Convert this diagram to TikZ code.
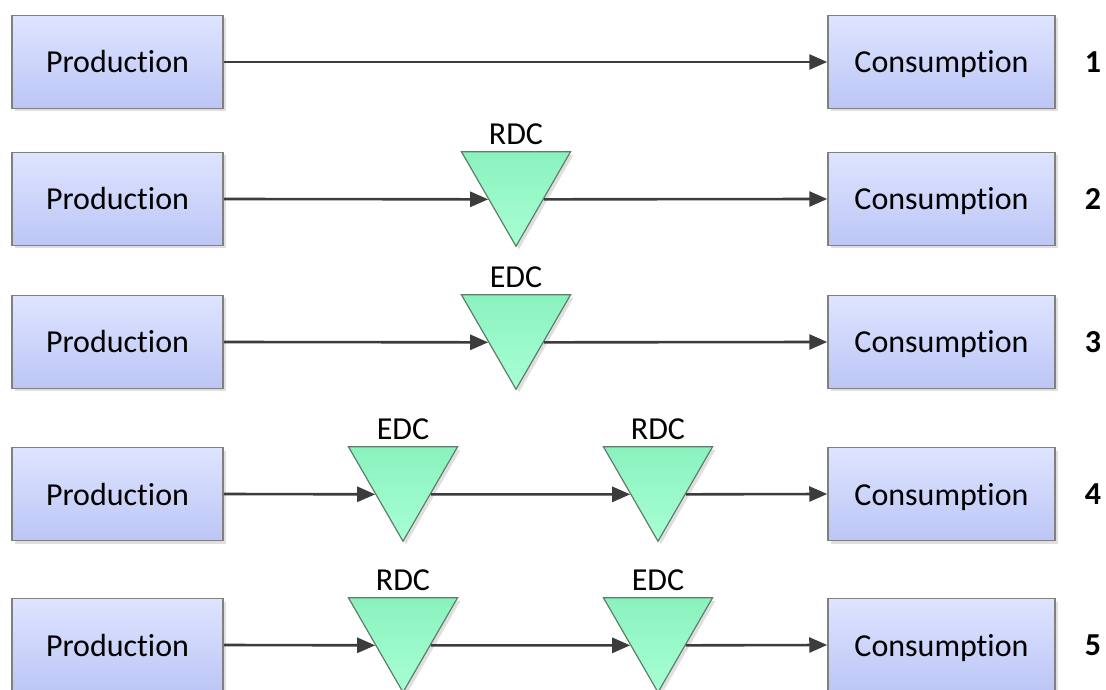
\documentclass[tikz,border=0pt]{standalone}
\usepackage{fontspec}
\setmainfont[Ligatures=NoCommon]{Carlito}
\usetikzlibrary{shapes.geometric, arrows.meta, positioning, shadows}
\definecolor{boxtop}{RGB}{222,228,255}
\definecolor{boxbot}{RGB}{188,198,246}
\definecolor{boxedge}{RGB}{128,128,128}
\definecolor{dctop}{RGB}{138,242,190}
\definecolor{dcbot}{RGB}{168,255,212}
\definecolor{dcedge}{RGB}{95,125,105}
\definecolor{flowc}{RGB}{60,60,60}

\begin{document}
\begin{tikzpicture}[x=1pt, y=1pt,
    font=\fontsize{32}{38}\selectfont,
    box/.style={draw=boxedge, line width=1.5pt, top color=boxtop, bottom color=boxbot,
        minimum height=93pt, inner sep=0pt, text height=26pt, text depth=4pt,
        drop shadow={shadow xshift=3pt, shadow yshift=-3pt, opacity=0.25}},
    prod/.style={box, minimum width=211pt},
    cons/.style={box, minimum width=227pt},
    dc/.style={regular polygon, regular polygon sides=3, shape border rotate=180,
        minimum size=125.9pt, inner sep=0pt, draw=dcedge, line width=1.2pt,
        top color=dctop, bottom color=dcbot,
        drop shadow={shadow xshift=3pt, shadow yshift=-3pt, opacity=0.25}},
    dclabel/.style={inner sep=2pt},
    num/.style={font=\fontsize{32}{38}\selectfont\bfseries},
    flow/.style={-{Triangle[length=18pt,width=15pt]}, line width=2.6pt, draw=flowc}]
    \useasboundingbox (0,0) rectangle (1106,689);

    % 1: direct
    \node[prod] (p1) at (117.5,627) {Production};
    \node[cons] (c1) at (941.5,627) {Consumption};
    \node[num] (n1) at (1093,627) {1};
    \draw[flow] (p1.east) -- (c1.west);

    % 2: via RDC
    \node[prod] (p2) at (117.5,490) {Production};
    \node[cons] (c2) at (941.5,490) {Consumption};
    \node[num] (n2) at (1093,490) {2};
    \node[dc] (r2) at (516,505.7) {};
    \node[dclabel, above=4pt of r2] (r2l) {RDC};
    \draw[flow] (p2.east) -- (r2.side 3);
    \draw[flow] (r2.side 1) -- (c2.west);

    % 3: via EDC
    \node[prod] (p3) at (117.5,347) {Production};
    \node[cons] (c3) at (941.5,347) {Consumption};
    \node[num] (n3) at (1093,347) {3};
    \node[dc] (e3) at (516,362.7) {};
    \node[dclabel, above=4pt of e3] (e3l) {EDC};
    \draw[flow] (p3.east) -- (e3.side 3);
    \draw[flow] (e3.side 1) -- (c3.west);

    % 4: EDC then RDC
    \node[prod] (p4) at (117.5,195) {Production};
    \node[cons] (c4) at (941.5,195) {Consumption};
    \node[num] (n4) at (1093,195) {4};
    \node[dc] (e4) at (403,210.7) {};
    \node[dclabel, above=4pt of e4] (e4l) {EDC};
    \node[dc] (r4) at (658,210.7) {};
    \node[dclabel, above=4pt of r4] (r4l) {RDC};
    \draw[flow] (p4.east) -- (e4.side 3);
    \draw[flow] (e4.side 1) -- (r4.side 3);
    \draw[flow] (r4.side 1) -- (c4.west);

    % 5: RDC then EDC
    \node[prod] (p5) at (117.5,44) {Production};
    \node[cons] (c5) at (941.5,44) {Consumption};
    \node[num] (n5) at (1093,44) {5};
    \node[dc] (r5) at (403,59.7) {};
    \node[dclabel, above=4pt of r5] (r5l) {RDC};
    \node[dc] (e5) at (658,59.7) {};
    \node[dclabel, above=4pt of e5] (e5l) {EDC};
    \draw[flow] (p5.east) -- (r5.side 3);
    \draw[flow] (r5.side 1) -- (e5.side 3);
    \draw[flow] (e5.side 1) -- (c5.west);
\end{tikzpicture}
\end{document}
